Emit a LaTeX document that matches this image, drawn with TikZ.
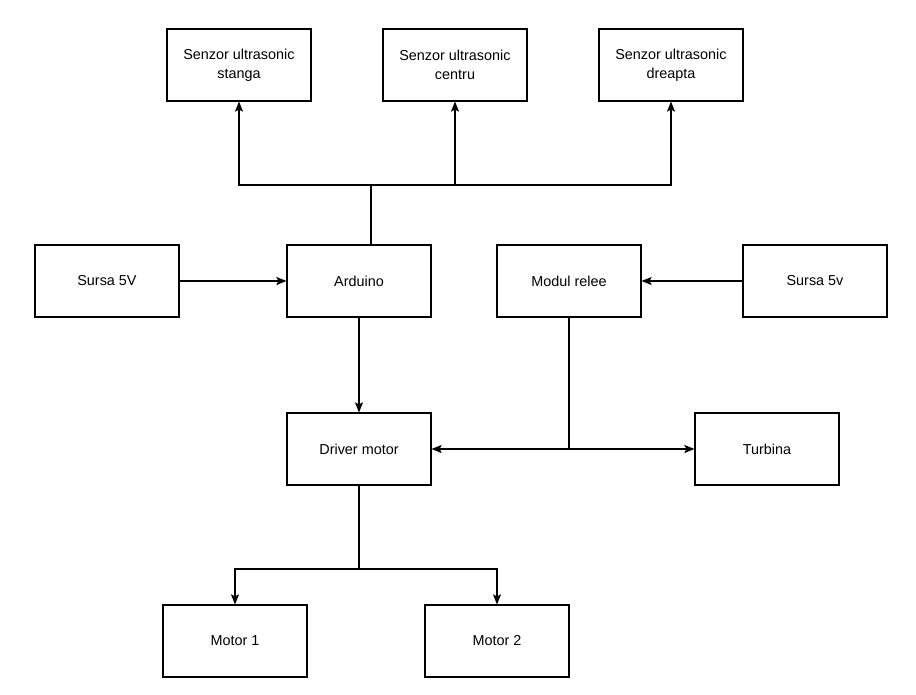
\documentclass[tikz,border=0pt]{standalone}
\usepackage{fontspec}
\setmainfont{Liberation Sans}
\usetikzlibrary{arrows.meta}
\begin{document}
\begin{tikzpicture}[x=1pt,y=-1pt,
  blk/.style={draw,line width=1.2pt,minimum width=144pt,minimum height=72pt,align=center,inner sep=0pt,font=\fontsize{14.4}{19}\selectfont},
  conn/.style={line width=1.2pt},
  arr/.style={line width=1.2pt,-{Stealth[length=10pt,width=8pt,inset=2pt]}}]
\fill[white] (0,0) rectangle (916,695);
\useasboundingbox (0,0) rectangle (916,695);
\node[blk] (s1) at (239,65) {Senzor ultrasonic\\stanga};
\node[blk] (s2) at (455,65) {Senzor ultrasonic\\centru};
\node[blk] (s3) at (671,65) {Senzor ultrasonic\\dreapta};
\node[blk] (p1) at (107,281) {Sursa 5V};
\node[blk] (ard) at (359,281) {Arduino};
\node[blk] (rel) at (569,281) {Modul relee};
\node[blk] (p2) at (815,281) {Sursa 5v};
\node[blk] (drv) at (359,449) {Driver motor};
\node[blk] (tur) at (767,449) {Turbina};
\node[blk] (m1) at (235,641) {Motor 1};
\node[blk] (m2) at (497,641) {Motor 2};
\coordinate (j1) at (371,185);
\coordinate (j2) at (569,449);
\coordinate (j3) at (359,569);
% sensors
\draw[conn] (ard.north -| j1) -- (j1);
\draw[arr] (j1) -| (s1.south);
\draw[arr] (j1) -| (s2.south);
\draw[arr] (j1) -| (s3.south);
% power
\draw[arr] (p1) -- (ard);
\draw[arr] (p2) -- (rel);
% arduino to driver
\draw[arr] (ard) -- (drv);
% relay
\draw[conn] (rel.south) -- (j2);
\draw[arr] (j2) -- (drv.east);
\draw[arr] (j2) -- (tur.west);
% motors
\draw[conn] (drv.south) -- (j3);
\draw[arr] (j3) -| (m1.north);
\draw[arr] (j3) -| (m2.north);
\end{tikzpicture}
\end{document}
